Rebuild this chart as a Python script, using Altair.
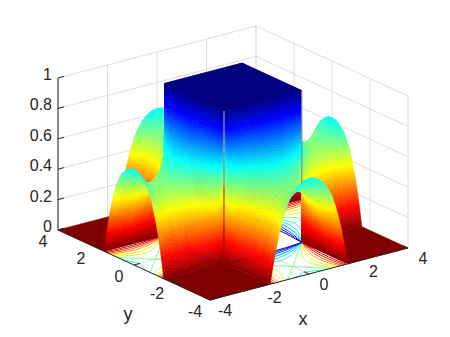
import math
import altair as alt

# Height table of one quarter of a strip (colour bands and outlines).
x_nodes = [0, .20, .40, .59, .77, .93, 1.07, 1.20, 1.31, 1.39, 1.45, 1.50, 1.54, 1.571]
y_nodes = [1.571, 1.586, 1.611, 1.641, 1.681, 1.732, 1.793, 1.865, 1.950, 2.04, 2.15, 2.30,
           2.50, 2.75, 3.14, 3.45, 3.70, 4.0]
z_rows = [
    [1, 1, 1, 1, 1, 1, 1, 1, 1, 1, 1, 1, 1, .5],
    [.99, .99, .99, .99, .99, .98, .98, .97, .96, .95, .92, .87, .70, 0],
    [.975, .974, .97, .97, .965, .96, .95, .93, .90, .86, .795, .67, .41, 0],
    [.955, .955, .95, .945, .94, .925, .91, .875, .83, .76, .665, .50, .26, 0],
    [.93, .93, .925, .915, .90, .885, .855, .81, .745, .655, .53, .36, .17, 0],
    [.90, .897, .89, .88, .86, .835, .795, .73, .65, .54, .41, .26, .12, 0],
    [.86, .86, .85, .835, .81, .775, .73, .655, .555, .44, .32, .195, .085, 0],
    [.82, .815, .805, .785, .755, .715, .655, .57, .47, .35, .25, .15, .065, 0],
    [.775, .77, .755, .73, .70, .65, .58, .49, .39, .29, .20, .12, .05, 0],
    [.73, .725, .705, .68, .64, .585, .515, .425, .33, .24, .165, .10, .04, 0],
    [.68, .675, .66, .63, .585, .53, .46, .37, .28, .20, .14, .08, .035, 0],
    [.625, .62, .60, .57, .525, .47, .395, .315, .24, .17, .115, .067, .03, 0],
    [.57, .56, .545, .51, .47, .41, .345, .27, .20, .14, .095, .055, .024, 0],
    [.525, .515, .50, .47, .42, .365, .305, .24, .175, .12, .08, .05, .02, 0],
    [.50, .49, .465, .435, .40, .344, .285, .22, .16, .115, .075, .045, .02, 0],
    [.515, .51, .49, .46, .41, .355, .30, .23, .17, .12, .08, .047, .02, 0],
    [.555, .545, .525, .495, .45, .39, .33, .255, .19, .135, .09, .053, .022, 0],
    [.63, .625, .605, .575, .53, .475, .40, .32, .24, .17, .117, .068, .03, 0],
]
contour_levels = [.07, .14, .21, .28, .36, .43, .5, .57, .64, .71, .79, .86, .93]
edge = 1.571
x_ticks = [-4, -2, 0, 2, 4]
y_ticks = [-4, -2, 0, 2, 4]
z_ticks = [0, .2, .4, .6, .8, 1]
z_tick_text = ["0", "0.2", "0.4", "0.6", "0.8", "1"]
jet_stops = [0, .125, .375, .625, .875, 1]
jet_colors = ["#800000", "#ff0000", "#ffff00", "#00ffff", "#0000ff", "#000080"]


def view(x, y, z=0.0):
    """Orthographic view of the 3-D axes box, in chart pixels."""
    return [round(202 + 24.75 * (x + 4) - 19.0 * (y + 4), 2),
            round(292 - 6.5 * (x + 4) - 8.75 * (y + 4) - 152 * z, 2)]


def poly(points, z):
    ring = [view(*p) for p in points]
    ring.append(ring[0])
    return {"type": "Feature", "properties": {"z": z},
            "geometry": {"type": "Polygon", "coordinates": [ring]}}


def line(points, z=0):
    return {"type": "Feature", "properties": {"z": z},
            "geometry": {"type": "LineString", "coordinates": [view(*p) for p in points]}}


maps = {
    "A": lambda t, w: (t, -w),
    "C": lambda t, w: (t, w),
    "B": lambda t, w: (-w, t),
    "D": lambda t, w: (w, t),
}
signed = [-v for v in reversed(x_nodes[1:])] + x_nodes


def col_z(j, t):
    return z_rows[j][x_nodes.index(abs(t))]


def strip(name):
    """Each table facet is drawn with interpolated shading: split into small flat pieces."""
    m = maps[name]
    cells = []
    for j in range(len(y_nodes) - 1):
        for i in range(len(signed) - 1):
            t0, t1 = signed[i], signed[i + 1]
            w0, w1 = y_nodes[j], y_nodes[j + 1]
            z00, z10 = col_z(j, t0), col_z(j, t1)
            z01, z11 = col_z(j + 1, t0), col_z(j + 1, t1)
            nt = min(6, max(1, math.ceil(max(abs(z10 - z00), abs(z11 - z01)) / .02)))
            nw = min(6, max(1, math.ceil(max(abs(z01 - z00), abs(z11 - z10)) / .02)))

            def pt(a, b):
                z = (z00 * (1 - a) + z10 * a) * (1 - b) + (z01 * (1 - a) + z11 * a) * b
                return m(t0 + (t1 - t0) * a, w0 + (w1 - w0) * b) + (z,)

            for p in range(nt):
                for q in range(nw):
                    a0, a1, b0, b1 = p / nt, (p + 1) / nt, q / nw, (q + 1) / nw
                    pts = [pt(a0, b0), pt(a1, b0), pt(a1, b1), pt(a0, b1)]
                    zm = sum(c[2] for c in pts) / 4
                    depth = sum(.609 * c[0] + .793 * c[1] for c in pts) / 4
                    cells.append((depth, poly(pts, round(zm, 3))))
    return cells


def far_first(cells):
    return [c[1] for c in sorted(cells, key=lambda c: -c[0])]


surface_back = far_first(strip("C") + strip("D"))
surface_front = far_first(strip("A") + strip("B"))
plateau = [poly([(-edge, -edge, 1), (edge, -edge, 1), (edge, edge, 1), (-edge, edge, 1)], 1)]
floor = [poly([(a, b, 0), (a + 4 - edge, b, 0), (a + 4 - edge, b + 4 - edge, 0), (a, b + 4 - edge, 0)], 0)
         for a in (-4, edge) for b in (-4, edge)]


def crossing(j, L):
    row = z_rows[j]
    if row[0] < L:
        return None
    for i in range(len(row) - 1):
        if row[i] >= L > row[i + 1]:
            f = (row[i] - L) / (row[i] - row[i + 1])
            return x_nodes[i] + f * (x_nodes[i + 1] - x_nodes[i])
    return None


def contour_curves(L):
    runs, cur = [], []
    for j in range(1, len(y_nodes)):
        c = crossing(j, L)
        if c is None:
            if cur:
                a, b = z_rows[j - 1][0], z_rows[j][0]
                f = (a - L) / (a - b) if a != b else 0
                cur.append((0, y_nodes[j - 1] + f * (y_nodes[j] - y_nodes[j - 1])))
                runs.append(cur)
                cur = []
        else:
            if not cur:
                if j == 1:
                    cur.append((edge, edge))
                else:
                    a, b = z_rows[j - 1][0], z_rows[j][0]
                    f = (L - a) / (b - a) if a != b else 0
                    cur.append((0, y_nodes[j - 1] + f * (y_nodes[j] - y_nodes[j - 1])))
            cur.append((c, y_nodes[j]))
    if cur:
        runs.append(cur)
    return runs


contours = []
for L in contour_levels:
    for run in contour_curves(L):
        for name in maps:
            for sgn in (1, -1):
                contours.append(line([maps[name](sgn * t, w) + (0,) for t, w in run], L))

grid = []
for v in x_ticks:
    grid.append(line([(v, 4, 0), (v, 4, 1)]))
    grid.append(line([(v, -4, 0), (v, 4, 0)]))
for v in y_ticks:
    grid.append(line([(4, v, 0), (4, v, 1)]))
    grid.append(line([(-4, v, 0), (4, v, 0)]))
for v in z_ticks:
    grid.append(line([(-4, 4, v), (4, 4, v), (4, -4, v)]))

frame = [line([(-4, 4, 1), (-4, 4, 0), (-4, -4, 0), (4, -4, 0)])]
for v in x_ticks:
    frame.append(line([(v, -4, 0), (v, -3.75, 0)]))
for v in y_ticks:
    frame.append(line([(-4, v, 0), (-3.75, v, 0)]))
for v in z_ticks:
    frame.append(line([(-4, 4, v), (-3.75, 4, v)]))

# Seams at the plateau corners: grey in the upper part, reddish in the lower part of the front one.
fold_grey = [line([(-edge, -edge, .5), (-edge, -edge, 1)]), line([(edge, -edge, .39), (edge, -edge, 1)])]
fold_red = [line([(-edge, -edge, .25), (-edge, -edge, .5)])]
fold_dark = [line([(-edge, -edge, .04), (-edge, -edge, .25)])]

labels = []
for v in x_ticks:
    p = view(v, -4)
    labels.append({"lon": p[0] + 15, "lat": p[1] + 11, "t": str(v)})
for v in y_ticks:
    p = view(-4, v)
    labels.append({"lon": p[0] - 15, "lat": p[1] + 11.5, "t": str(v)})
names = [{"lon": view(0, -4)[0] - 6, "lat": view(0, -4)[1] + 46, "t": "x"},
         {"lon": view(-4, 0)[0] - 6, "lat": view(-4, 0)[1] + 50, "t": "y"}]
z_labels = [{"lon": view(-4, 4, v)[0] - 6, "lat": view(-4, 4, v)[1] - 3, "t": s}
            for v, s in zip(z_ticks, z_tick_text)]

proj = dict(type="identity", scale=1, translate=[0, 0])
zq = alt.Scale(domain=jet_stops, range=jet_colors, interpolate="rgb")
fill_enc = dict(
    fill=alt.Fill("properties.z:Q", scale=zq, legend=None),
    stroke=alt.Stroke("properties.z:Q", scale=zq, legend=None),
)


def surf(features):
    return alt.Chart(alt.Data(values=features)).mark_geoshape(strokeWidth=.5).encode(**fill_enc).project(**proj)


def seam(features, colour, width, opacity=1.0):
    return alt.Chart(alt.Data(values=features)).mark_geoshape(
        filled=False, stroke=colour, strokeWidth=width, opacity=opacity).project(**proj)


grid_layer = alt.Chart(alt.Data(values=grid)).mark_geoshape(
    filled=False, stroke="#dfdfdf", strokeWidth=1).project(**proj)
contour_layer = alt.Chart(alt.Data(values=contours)).mark_geoshape(filled=False, strokeWidth=1).encode(
    stroke=alt.Stroke("properties.z:Q", scale=zq, legend=None)).project(**proj)
frame_layer = alt.Chart(alt.Data(values=frame)).mark_geoshape(
    filled=False, stroke="#262626", strokeWidth=1).project(**proj)


def text(rows, align="center", size=16):
    return alt.Chart(alt.Data(values=rows)).mark_text(
        font="Liberation Sans", fontSize=size, color="#262626", align=align, baseline="middle"
    ).encode(longitude="lon:Q", latitude="lat:Q", text="t:N").project(**proj)


chart = alt.layer(
    grid_layer, surf(floor), contour_layer, surf(surface_back), surf(plateau), surf(surface_front),
    seam(fold_grey, "#8f8f8f", 1.5, .85), seam(fold_red, "#d03018", 1.2), seam(fold_dark, "#901008", 1.2),
    frame_layer, text(labels), text(z_labels, "right"), text(names, size=18),
).properties(width=434, height=321, padding=0, autosize=alt.AutoSizeParams(type="none")).configure_view(stroke=None)

chart.save("out.html", embed_options={"renderer": "svg", "actions": False})
